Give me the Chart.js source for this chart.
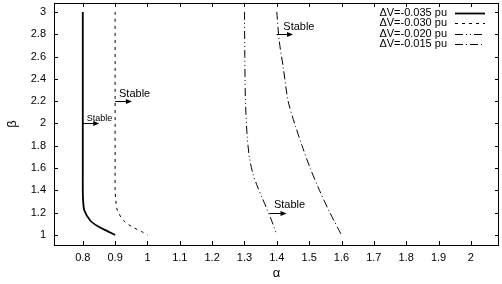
<!DOCTYPE html>
<html lang="en">
<head>
    <meta charset="UTF-8">
    <title>Stability boundaries</title>
    <script src="https://cdn.jsdelivr.net/npm/chart.js"></script>
    <style>
        body { margin: 0; background: #ffffff; }
        .wrap { width: 502px; height: 284px; }
    </style>
</head>
<body>
    <div class="wrap"><canvas id="chart"></canvas></div>
    <script>
        // series labels
        const seriesNames = ['\u0394V=-0.035 pu', '\u0394V=-0.030 pu', '\u0394V=-0.020 pu', '\u0394V=-0.015 pu'];

        // alpha / beta values
        const a035 = [0.8, 0.8, 0.8, 0.8, 0.8, 0.801, 0.805, 0.823, 0.848, 0.879, 0.9];
        const b035 = [3.0, 2.5, 2.0, 1.6, 1.4, 1.31, 1.22, 1.13, 1.075, 1.03, 1.0];

        const a030 = [0.9, 0.9, 0.9, 0.9, 0.9, 0.902, 0.907, 0.926, 0.951, 0.982, 1.0];
        const b030 = [3.0, 2.5, 2.0, 1.6, 1.4, 1.31, 1.22, 1.13, 1.075, 1.03, 1.0];

        const a020 = [1.3, 1.301, 1.303, 1.308, 1.315, 1.326, 1.338, 1.355, 1.37, 1.385, 1.4];
        const b020 = [3.0, 2.6, 2.2, 1.9, 1.7, 1.55, 1.45, 1.33, 1.23, 1.12, 1.0];

        const a015 = [1.4, 1.407, 1.42, 1.435, 1.455, 1.478, 1.503, 1.532, 1.564, 1.6];
        const b015 = [3.0, 2.75, 2.5, 2.2, 2.0, 1.8, 1.6, 1.4, 1.2, 1.0];

        // tick labels
        const xTicks = [0.8, 0.9, 1.0, 1.1, 1.2, 1.3, 1.4, 1.5, 1.6, 1.7, 1.8, 1.9, 2.0];
        const yTicks = [1.0, 1.2, 1.4, 1.6, 1.8, 2.0, 2.2, 2.4, 2.6, 2.8, 3.0];

        // "Stable" arrows (data coords)
        const arrowFromX = [0.8, 0.9, 1.399, 1.377];
        const arrowToX = [0.851, 0.952, 1.45, 1.43];
        const arrowY = [2.0, 2.2, 2.8, 1.2];
        const noteX = [0.812, 0.912, 1.42, 1.391];
        const noteY = [2.04, 2.265, 2.868, 1.269];
        const noteText = ['Stable', 'Stable', 'Stable', 'Stable'];

        const FONT = '"Liberation Sans", Arial, sans-serif';
        const pts = (xs, ys) => xs.map((v, i) => ({ x: v, y: ys[i] }));

        const framePlugin = {
            id: 'frame',
            afterDatasetsDraw(chart) {
                const { ctx, chartArea: a, scales: { x, y } } = chart;
                ctx.save();
                ctx.strokeStyle = '#000';
                ctx.fillStyle = '#000';
                ctx.lineWidth = 1;
                ctx.setLineDash([]);
                ctx.strokeRect(a.left + 0.5, a.top + 0.5, a.right - a.left - 1, a.bottom - a.top);

                // inward ticks, mirrored on top and right
                ctx.beginPath();
                xTicks.forEach(v => {
                    const px = Math.round(x.getPixelForValue(v)) + 0.5;
                    ctx.moveTo(px, a.bottom); ctx.lineTo(px, a.bottom - 4);
                    ctx.moveTo(px, a.top); ctx.lineTo(px, a.top + 4);
                });
                yTicks.forEach(v => {
                    const py = Math.round(y.getPixelForValue(v)) + 0.5;
                    ctx.moveTo(a.left, py); ctx.lineTo(a.left + 4, py);
                    ctx.moveTo(a.right, py); ctx.lineTo(a.right - 4, py);
                });
                ctx.stroke();

                // arrows with labels
                arrowY.forEach((b, i) => {
                    const x0 = x.getPixelForValue(arrowFromX[i]);
                    const x1 = x.getPixelForValue(arrowToX[i]);
                    const py = Math.round(y.getPixelForValue(b)) + 0.5;
                    ctx.beginPath();
                    ctx.moveTo(x0, py); ctx.lineTo(x1 - 4, py);
                    ctx.stroke();
                    ctx.beginPath();
                    ctx.moveTo(x1, py); ctx.lineTo(x1 - 6, py - 2.5); ctx.lineTo(x1 - 6, py + 2.5);
                    ctx.closePath();
                    ctx.fill();
                    ctx.font = (i === 0 ? '9px ' : '11px ') + FONT;
                    ctx.textAlign = 'left';
                    ctx.textBaseline = 'middle';
                    ctx.fillText(noteText[i], x.getPixelForValue(noteX[i]), y.getPixelForValue(noteY[i]));
                });

                // key, top right inside the frame
                ctx.font = '11px ' + FONT;
                chart.data.datasets.forEach((ds, i) => {
                    const ry = 12.5 + i * 10.5;
                    ctx.textAlign = 'right';
                    ctx.textBaseline = 'middle';
                    ctx.fillText(ds.label, 447, ry);
                    ctx.beginPath();
                    ctx.lineWidth = ds.borderWidth;
                    ctx.setLineDash(ds.borderDash || []);
                    ctx.moveTo(455, Math.round(ry) + 0.5);
                    ctx.lineTo(485, Math.round(ry) + 0.5);
                    ctx.stroke();
                });
                ctx.restore();
            }
        };

        const common = { showLine: true, pointRadius: 0, borderColor: '#000', backgroundColor: '#000', tension: 0.3, fill: false };

        new Chart(document.getElementById('chart'), {
            type: 'scatter',
            data: {
                datasets: [
                    { ...common, label: seriesNames[0], data: pts(a035, b035), borderWidth: 1.8 },
                    { ...common, label: seriesNames[1], data: pts(a030, b030), borderWidth: 1, borderDash: [3, 4] },
                    { ...common, label: seriesNames[2], data: pts(a020, b020), borderWidth: 1, borderDash: [8, 3, 1, 3, 1, 3] },
                    { ...common, label: seriesNames[3], data: pts(a015, b015), borderWidth: 1, borderDash: [8, 3, 1, 3] }
                ]
            },
            options: {
                responsive: true,
                maintainAspectRatio: false,
                animation: false,
                devicePixelRatio: 1,
                layout: { padding: { top: 3, right: 3, left: 0, bottom: 0 } },
                plugins: { legend: { display: false }, tooltip: { enabled: false } },
                scales: {
                    x: {
                        type: 'linear', min: 0.711, max: 2.087,
                        afterFit: s => { s.height = 39; s.paddingLeft = 0; s.paddingRight = 0; },
                        afterBuildTicks: s => { s.ticks = xTicks.map(v => ({ value: v })); },
                        grid: { display: false, drawTicks: false },
                        border: { display: false },
                        ticks: { padding: 6, color: '#000', font: { family: FONT, size: 11 }, callback: v => String(+v.toFixed(1)), maxRotation: 0, autoSkip: false },
                        title: { display: true, text: '\u03b1', color: '#000', font: { family: FONT, size: 13 }, padding: { top: 0, bottom: 3 } }
                    },
                    y: {
                        type: 'linear', min: 0.91, max: 3.08,
                        afterFit: s => { s.width = 54; s.paddingTop = 0; s.paddingBottom = 0; },
                        afterBuildTicks: s => { s.ticks = yTicks.map(v => ({ value: v })); },
                        grid: { display: false, drawTicks: false },
                        border: { display: false },
                        ticks: { padding: 8, color: '#000', font: { family: FONT, size: 11 }, callback: v => String(+v.toFixed(1)), autoSkip: false },
                        title: { display: true, text: '\u03b2', color: '#000', font: { family: FONT, size: 13 }, padding: { top: 5, bottom: 0 } }
                    }
                }
            },
            plugins: [framePlugin]
        });
    </script>
</body>
</html>
